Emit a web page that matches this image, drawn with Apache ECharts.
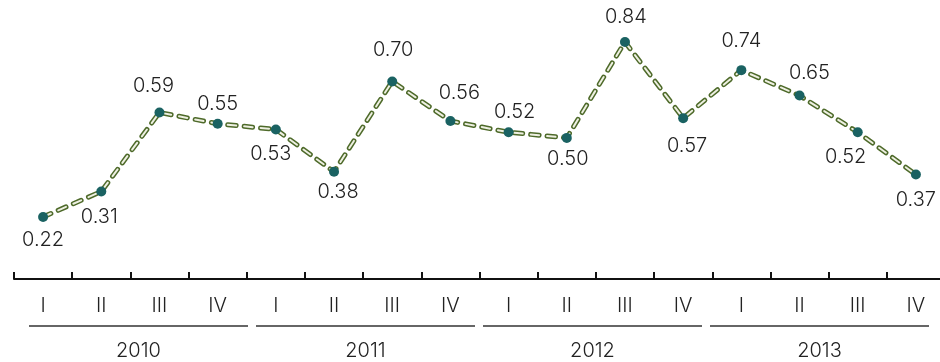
<!DOCTYPE html>
<html>
<head>
<meta charset="utf-8">
<script src="https://cdn.jsdelivr.net/npm/echarts@6/dist/echarts.min.js"></script>
<style>
  html, body { margin: 0; padding: 0; background: #fff; overflow: hidden; }
  /* the axis runs a few pixels past the right edge of the page */
  #chart { width: 948px; height: 362px; }
</style>
</head>
<body>
<div id="chart"></div>
<script>
// Quarterly values, 2010–2013
const quarters = ['I', 'II', 'III', 'IV', 'I', 'II', 'III', 'IV', 'I', 'II', 'III', 'IV', 'I', 'II', 'III', 'IV'];
const years = ['2010', '2011', '2012', '2013'];
const values = [0.22, 0.31, 0.59, 0.55, 0.53, 0.38, 0.70, 0.56, 0.52, 0.50, 0.84, 0.57, 0.74, 0.65, 0.52, 0.37];
// where each value label sits relative to its point: [dx, dy] of the label centre
const labelOffsets = [
  [0, 23], [-2, 25], [-6, -27], [0, -20], [-5, 25], [4, 20], [1, -31], [9, -28],
  [6, -20], [1, 21], [1, -25], [4, 28], [0, -29], [10, -23], [-12, 25], [0, 25]
];

const FONT = 'Inter, "Noto Sans", sans-serif';
const WEIGHT = 300;
const TEXT = '#222';
const OLIVE = '#4e6a2a';
const DOT = '#1a6262';
const DOT_SIZE = 10;

const chart = echarts.init(document.getElementById('chart'), null, { renderer: 'canvas' });

const textStyle = { color: TEXT, fontFamily: FONT, fontWeight: WEIGHT, fontSize: 20 };

// label position is measured from the symbol's top-left corner
const pointData = values.map((v, i) => ({
  value: v,
  label: {
    position: [DOT_SIZE / 2 + labelOffsets[i][0], DOT_SIZE / 2 + labelOffsets[i][1]],
    align: 'center',
    verticalAlign: 'middle'
  }
}));

chart.setOption({
  animation: false,
  grid: [
    { left: 14, width: 931, top: 25, bottom: 83 },
    { left: 25, width: 908, top: 326, bottom: 26 }
  ],
  xAxis: [
    {
      gridIndex: 0,
      type: 'category',
      data: quarters,
      boundaryGap: true,
      axisLine: { show: true, lineStyle: { color: '#111', width: 2 } },
      axisTick: { show: true, inside: true, length: 7, lineStyle: { color: '#111', width: 2 } },
      axisLabel: Object.assign({ margin: 17 }, textStyle),
      splitLine: { show: false }
    },
    {
      gridIndex: 1,
      type: 'category',
      data: years,
      boundaryGap: true,
      axisLine: { show: false },
      axisTick: { show: false },
      axisLabel: Object.assign({ margin: 5 }, textStyle),
      splitLine: { show: false }
    }
  ],
  yAxis: [
    { gridIndex: 0, type: 'value', min: 0, max: 0.9, show: false },
    { gridIndex: 1, type: 'value', min: 0, max: 1, show: false }
  ],
  series: [
    {
      // dark outline of the dashed line
      type: 'line',
      xAxisIndex: 0, yAxisIndex: 0,
      data: values,
      symbol: 'none',
      silent: true,
      lineStyle: { color: OLIVE, width: 5, type: [8.5, 8], cap: 'round', join: 'round' },
      z: 2
    },
    {
      // light core of the dashed line, points and value labels
      type: 'line',
      xAxisIndex: 0, yAxisIndex: 0,
      data: pointData,
      symbol: 'circle',
      symbolSize: DOT_SIZE,
      itemStyle: { color: DOT },
      lineStyle: { color: '#eef0e2', width: 2, type: [8.5, 8], cap: 'round', join: 'round' },
      label: Object.assign({
        show: true,
        formatter: p => p.value.toFixed(2)
      }, textStyle),
      labelLayout: { hideOverlap: false },
      z: 3
    },
    {
      // rule under each year's group of quarters
      type: 'custom',
      xAxisIndex: 1, yAxisIndex: 1,
      data: years.map((y, i) => [i, 1]),
      renderItem: (params, api) => {
        const c = api.coord([api.value(0), api.value(1)]);
        const half = api.size([1, 0])[0] / 2 - 4;
        return {
          type: 'line',
          shape: { x1: c[0] - half, y1: c[1], x2: c[0] + half, y2: c[1] },
          style: { stroke: '#333', lineWidth: 1.5 }
        };
      },
      silent: true
    }
  ]
});
</script>
</body>
</html>
